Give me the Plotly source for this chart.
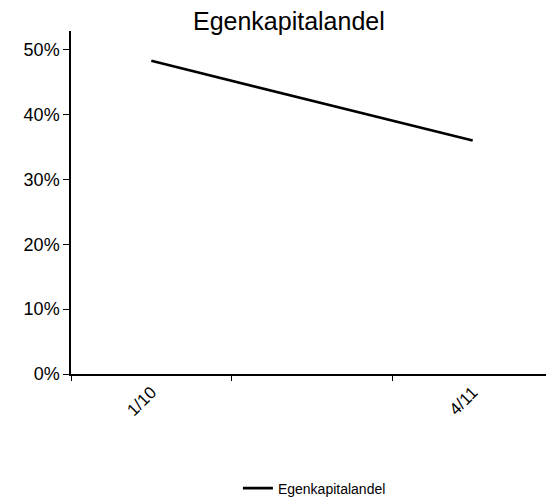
import plotly.graph_objects as go

periods = ["1/10", "4/11"]
axis_categories = ["1/10", " ", "4/11"]
values = [0.483, 0.360]
series_name = "Egenkapitalandel"
y_ticks = [0, 0.1, 0.2, 0.3, 0.4, 0.5]
y_tick_labels = ["0%", "10%", "20%", "30%", "40%", "50%"]

fig = go.Figure()
fig.add_trace(go.Scatter(
    x=periods, y=values, mode="lines", name=series_name,
    line=dict(color="black", width=2.6),
))

font = "Liberation Sans, Arial, sans-serif"
fig.update_layout(
    width=554, height=499,
    margin=dict(l=63, r=9, t=23, b=133),
    paper_bgcolor="white", plot_bgcolor="white",
    font=dict(family=font, color="black", size=18),
    title=dict(text="Egenkapitalandel", x=0.507, xanchor="center",
               y=0.974, yanchor="middle", font=dict(size=25, family=font)),
    showlegend=True,
    legend=dict(orientation="h", x=0.505, xanchor="center",
                yref="container", y=0.037, yanchor="middle",
                font=dict(size=14, family=font), itemwidth=30),
    xaxis=dict(type="category", categoryorder="array", categoryarray=axis_categories,
               range=[-0.5, 2.5], tickson="boundaries", ticks="outside", ticklen=5,
               tickcolor="black", showline=True, linecolor="black", linewidth=1.5,
               showgrid=False, zeroline=False, tickangle=-45, automargin=False,
               tickfont=dict(size=17, family=font)),
    yaxis=dict(range=[0, 0.529], tickvals=y_ticks, ticktext=y_tick_labels,
               ticks="outside", ticklen=6, tickcolor="black", showline=True,
               linecolor="black", linewidth=1.5, showgrid=False, zeroline=False,
               automargin=False, tickfont=dict(size=18, family=font)),
)

fig.write_html("out.html")
